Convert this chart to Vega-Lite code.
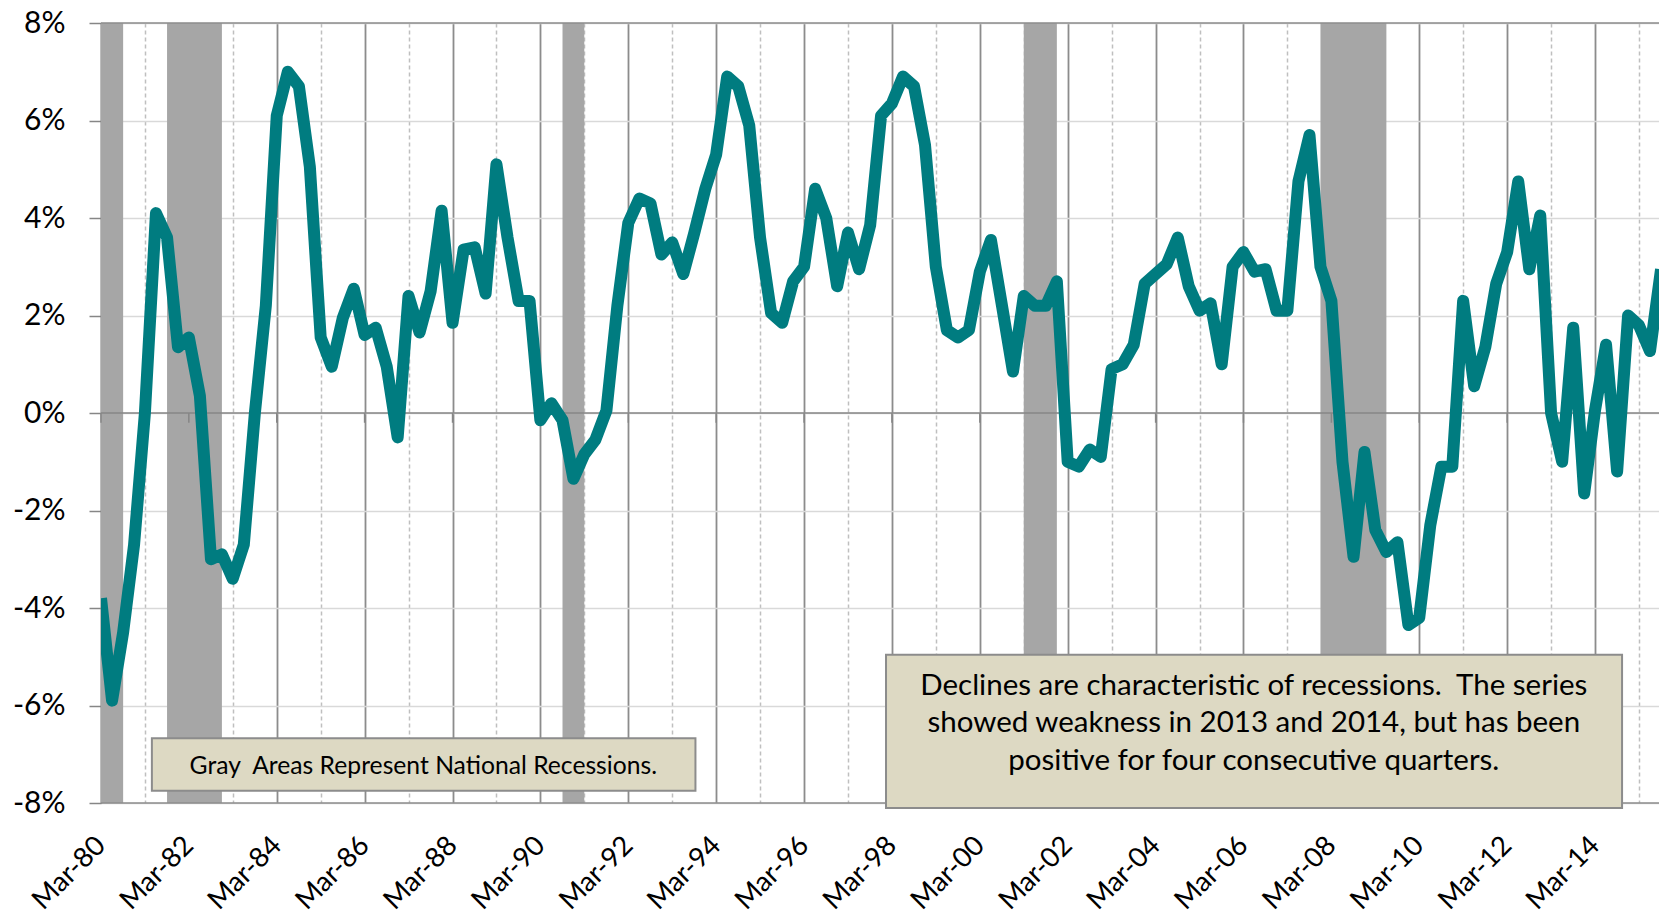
{
  "$schema": "https://vega.github.io/schema/vega-lite/v6.json",
  "width": 1558,
  "height": 780,
  "autosize": {"type": "none"},
  "padding": {"left": 101, "top": 23, "right": 0, "bottom": 113},
  "background": "white",
  "config": {"view": {"stroke": null}, "font": "Lato"},
  "datasets": {
    "series": [
      {"date": "1980-03", "value": -3.8}, {"date": "1980-06", "value": -5.9}, {"date": "1980-09", "value": -4.5}, {"date": "1980-12", "value": -2.7},
      {"date": "1981-03", "value": 0.0}, {"date": "1981-06", "value": 4.1}, {"date": "1981-09", "value": 3.6}, {"date": "1981-12", "value": 1.35},
      {"date": "1982-03", "value": 1.55}, {"date": "1982-06", "value": 0.35}, {"date": "1982-09", "value": -3.0}, {"date": "1982-12", "value": -2.9},
      {"date": "1983-03", "value": -3.4}, {"date": "1983-06", "value": -2.7}, {"date": "1983-09", "value": 0.0}, {"date": "1983-12", "value": 2.2},
      {"date": "1984-03", "value": 6.1}, {"date": "1984-06", "value": 7.0}, {"date": "1984-09", "value": 6.7}, {"date": "1984-12", "value": 5.05},
      {"date": "1985-03", "value": 1.55}, {"date": "1985-06", "value": 0.95}, {"date": "1985-09", "value": 1.95}, {"date": "1985-12", "value": 2.55},
      {"date": "1986-03", "value": 1.6}, {"date": "1986-06", "value": 1.75}, {"date": "1986-09", "value": 0.95}, {"date": "1986-12", "value": -0.5},
      {"date": "1987-03", "value": 2.4}, {"date": "1987-06", "value": 1.65}, {"date": "1987-09", "value": 2.5}, {"date": "1987-12", "value": 4.15},
      {"date": "1988-03", "value": 1.85}, {"date": "1988-06", "value": 3.35}, {"date": "1988-09", "value": 3.4}, {"date": "1988-12", "value": 2.45},
      {"date": "1989-03", "value": 5.1}, {"date": "1989-06", "value": 3.6}, {"date": "1989-09", "value": 2.3}, {"date": "1989-12", "value": 2.3},
      {"date": "1990-03", "value": -0.15}, {"date": "1990-06", "value": 0.2}, {"date": "1990-09", "value": -0.15}, {"date": "1990-12", "value": -1.35},
      {"date": "1991-03", "value": -0.85}, {"date": "1991-06", "value": -0.55}, {"date": "1991-09", "value": 0.05}, {"date": "1991-12", "value": 2.2},
      {"date": "1992-03", "value": 3.9}, {"date": "1992-06", "value": 4.4}, {"date": "1992-09", "value": 4.3}, {"date": "1992-12", "value": 3.25},
      {"date": "1993-03", "value": 3.5}, {"date": "1993-06", "value": 2.85}, {"date": "1993-09", "value": 3.7}, {"date": "1993-12", "value": 4.6},
      {"date": "1994-03", "value": 5.3}, {"date": "1994-06", "value": 6.9}, {"date": "1994-09", "value": 6.7}, {"date": "1994-12", "value": 5.9},
      {"date": "1995-03", "value": 3.6}, {"date": "1995-06", "value": 2.05}, {"date": "1995-09", "value": 1.85}, {"date": "1995-12", "value": 2.7},
      {"date": "1996-03", "value": 3.0}, {"date": "1996-06", "value": 4.6}, {"date": "1996-09", "value": 4.0}, {"date": "1996-12", "value": 2.6},
      {"date": "1997-03", "value": 3.7}, {"date": "1997-06", "value": 2.95}, {"date": "1997-09", "value": 3.85}, {"date": "1997-12", "value": 6.1},
      {"date": "1998-03", "value": 6.35}, {"date": "1998-06", "value": 6.9}, {"date": "1998-09", "value": 6.7}, {"date": "1998-12", "value": 5.5},
      {"date": "1999-03", "value": 3.0}, {"date": "1999-06", "value": 1.7}, {"date": "1999-09", "value": 1.55}, {"date": "1999-12", "value": 1.7},
      {"date": "2000-03", "value": 2.9}, {"date": "2000-06", "value": 3.55}, {"date": "2000-09", "value": 2.2}, {"date": "2000-12", "value": 0.85},
      {"date": "2001-03", "value": 2.4}, {"date": "2001-06", "value": 2.2}, {"date": "2001-09", "value": 2.2}, {"date": "2001-12", "value": 2.7},
      {"date": "2002-03", "value": -1.0}, {"date": "2002-06", "value": -1.1}, {"date": "2002-09", "value": -0.75}, {"date": "2002-12", "value": -0.9},
      {"date": "2003-03", "value": 0.9}, {"date": "2003-06", "value": 1.0}, {"date": "2003-09", "value": 1.4}, {"date": "2003-12", "value": 2.65},
      {"date": "2004-03", "value": 2.85}, {"date": "2004-06", "value": 3.05}, {"date": "2004-09", "value": 3.6}, {"date": "2004-12", "value": 2.6},
      {"date": "2005-03", "value": 2.1}, {"date": "2005-06", "value": 2.25}, {"date": "2005-09", "value": 1.0}, {"date": "2005-12", "value": 3.0},
      {"date": "2006-03", "value": 3.3}, {"date": "2006-06", "value": 2.9}, {"date": "2006-09", "value": 2.95}, {"date": "2006-12", "value": 2.1},
      {"date": "2007-03", "value": 2.1}, {"date": "2007-06", "value": 4.75}, {"date": "2007-09", "value": 5.7}, {"date": "2007-12", "value": 3.0},
      {"date": "2008-03", "value": 2.3}, {"date": "2008-06", "value": -1.0}, {"date": "2008-09", "value": -2.95}, {"date": "2008-12", "value": -0.8},
      {"date": "2009-03", "value": -2.4}, {"date": "2009-06", "value": -2.85}, {"date": "2009-09", "value": -2.65}, {"date": "2009-12", "value": -4.35},
      {"date": "2010-03", "value": -4.2}, {"date": "2010-06", "value": -2.3}, {"date": "2010-09", "value": -1.1}, {"date": "2010-12", "value": -1.1},
      {"date": "2011-03", "value": 2.3}, {"date": "2011-06", "value": 0.55}, {"date": "2011-09", "value": 1.35}, {"date": "2011-12", "value": 2.65},
      {"date": "2012-03", "value": 3.3}, {"date": "2012-06", "value": 4.75}, {"date": "2012-09", "value": 2.95}, {"date": "2012-12", "value": 4.05},
      {"date": "2013-03", "value": 0.0}, {"date": "2013-06", "value": -1.0}, {"date": "2013-09", "value": 1.75}, {"date": "2013-12", "value": -1.65},
      {"date": "2014-03", "value": 0.05}, {"date": "2014-06", "value": 1.4}, {"date": "2014-09", "value": -1.2}, {"date": "2014-12", "value": 2.0},
      {"date": "2015-03", "value": 1.8}, {"date": "2015-06", "value": 1.27}, {"date": "2015-09", "value": 2.95}
    ],
    "recessions": [
      {"start": "1980-03", "end": "1980-09"},
      {"start": "1981-09", "end": "1982-12"},
      {"start": "1990-09", "end": "1991-03"},
      {"start": "2001-03", "end": "2001-12"},
      {"start": "2007-12", "end": "2009-06"}
    ],
    "majorTicks": [
      {"d": "1980-03"}, {"d": "1982-03"}, {"d": "1984-03"}, {"d": "1986-03"}, {"d": "1988-03"}, {"d": "1990-03"},
      {"d": "1992-03"}, {"d": "1994-03"}, {"d": "1996-03"}, {"d": "1998-03"}, {"d": "2000-03"}, {"d": "2002-03"},
      {"d": "2004-03"}, {"d": "2006-03"}, {"d": "2008-03"}, {"d": "2010-03"}, {"d": "2012-03"}, {"d": "2014-03"}
    ],
    "one": [{}]
  },
  "layer": [
    {
      "data": {"name": "series"},
      "mark": {"type": "line", "opacity": 0, "clip": true},
      "encoding": {
        "x": {
          "field": "date", "type": "temporal",
          "scale": {"type": "utc", "nice": false, "domain": [{"year": 1980, "month": 3, "date": 1, "utc": true}, {"year": 2015, "month": 8, "date": 15, "utc": true}]},
          "axis": {
            "title": null, "orient": "bottom",
            "domain": false, "ticks": false, "tickSize": 0,
            "values": [
              {"year": 1980, "month": 3, "date": 1, "utc": true}, {"year": 1981, "month": 3, "date": 1, "utc": true},
              {"year": 1982, "month": 3, "date": 1, "utc": true}, {"year": 1983, "month": 3, "date": 1, "utc": true},
              {"year": 1984, "month": 3, "date": 1, "utc": true}, {"year": 1985, "month": 3, "date": 1, "utc": true},
              {"year": 1986, "month": 3, "date": 1, "utc": true}, {"year": 1987, "month": 3, "date": 1, "utc": true},
              {"year": 1988, "month": 3, "date": 1, "utc": true}, {"year": 1989, "month": 3, "date": 1, "utc": true},
              {"year": 1990, "month": 3, "date": 1, "utc": true}, {"year": 1991, "month": 3, "date": 1, "utc": true},
              {"year": 1992, "month": 3, "date": 1, "utc": true}, {"year": 1993, "month": 3, "date": 1, "utc": true},
              {"year": 1994, "month": 3, "date": 1, "utc": true}, {"year": 1995, "month": 3, "date": 1, "utc": true},
              {"year": 1996, "month": 3, "date": 1, "utc": true}, {"year": 1997, "month": 3, "date": 1, "utc": true},
              {"year": 1998, "month": 3, "date": 1, "utc": true}, {"year": 1999, "month": 3, "date": 1, "utc": true},
              {"year": 2000, "month": 3, "date": 1, "utc": true}, {"year": 2001, "month": 3, "date": 1, "utc": true},
              {"year": 2002, "month": 3, "date": 1, "utc": true}, {"year": 2003, "month": 3, "date": 1, "utc": true},
              {"year": 2004, "month": 3, "date": 1, "utc": true}, {"year": 2005, "month": 3, "date": 1, "utc": true},
              {"year": 2006, "month": 3, "date": 1, "utc": true}, {"year": 2007, "month": 3, "date": 1, "utc": true},
              {"year": 2008, "month": 3, "date": 1, "utc": true}, {"year": 2009, "month": 3, "date": 1, "utc": true},
              {"year": 2010, "month": 3, "date": 1, "utc": true}, {"year": 2011, "month": 3, "date": 1, "utc": true},
              {"year": 2012, "month": 3, "date": 1, "utc": true}, {"year": 2013, "month": 3, "date": 1, "utc": true},
              {"year": 2014, "month": 3, "date": 1, "utc": true}, {"year": 2015, "month": 3, "date": 1, "utc": true}
            ],
            "labelExpr": "utcyear(datum.value) % 2 === 0 ? utcFormat(datum.value, '%b-%y') : ''",
            "labelAngle": -45, "labelAlign": "right", "labelBaseline": "middle",
            "labelPadding": 38, "labelFontSize": 27.5, "labelFont": "Lato", "labelColor": "#000000",
            "labelFlush": false, "labelOverlap": false, "labelBound": false,
            "grid": true,
            "gridColor": {"condition": {"test": "utcyear(datum.value) % 2 === 1", "value": "#BFBFBF"}, "value": "#8C8C8C"},
            "gridDash": {"condition": {"test": "utcyear(datum.value) % 2 === 1", "value": [4, 3]}, "value": []},
            "gridWidth": {"condition": {"test": "utcyear(datum.value) % 2 === 1", "value": 1.5}, "value": 1.8}
          }
        },
        "y": {
          "field": "value", "type": "quantitative",
          "scale": {"domain": [-8, 8], "nice": false, "zero": false},
          "axis": {
            "title": null,
            "values": [-8, -6, -4, -2, 0, 2, 4, 6, 8],
            "labelExpr": "datum.value + '%'",
            "labelFontSize": 30, "labelFont": "Lato", "labelColor": "#000000", "labelPadding": 24,
            "tickSize": 12, "tickColor": "#868686", "tickWidth": 1.5,
            "domainColor": "#868686", "domainWidth": 1.5,
            "grid": true, "gridColor": "#D9D9D9", "gridWidth": 1.5
          }
        }
      }
    },
    {
      "data": {"name": "recessions"},
      "mark": {"type": "rect", "color": "#A6A6A6", "opacity": 1},
      "encoding": {
        "x": {"field": "start", "type": "temporal", "scale": {"type": "utc", "nice": false, "domain": [{"year": 1980, "month": 3, "date": 1, "utc": true}, {"year": 2015, "month": 8, "date": 15, "utc": true}]}},
        "x2": {"field": "end"},
        "y": {"datum": 8, "type": "quantitative", "scale": {"domain": [-8, 8], "nice": false, "zero": false}},
        "y2": {"datum": -8}
      }
    },
    {
      "data": {"name": "one"},
      "mark": {"type": "rule", "color": "#868686", "strokeWidth": 1.5},
      "encoding": {"y": {"datum": 0, "type": "quantitative", "scale": {"domain": [-8, 8], "nice": false, "zero": false}}}
    },
    {
      "data": {"name": "one"},
      "mark": {"type": "rule", "color": "#8C8C8C", "strokeWidth": 1.5},
      "encoding": {"y": {"datum": 8, "type": "quantitative", "scale": {"domain": [-8, 8], "nice": false, "zero": false}}}
    },
    {
      "data": {"name": "one"},
      "mark": {"type": "rule", "color": "#8C8C8C", "strokeWidth": 1.5},
      "encoding": {"y": {"datum": -8, "type": "quantitative", "scale": {"domain": [-8, 8], "nice": false, "zero": false}}}
    },
    {
      "data": {"name": "majorTicks"},
      "mark": {"type": "rule", "color": "#868686", "strokeWidth": 1.5},
      "encoding": {
        "x": {"field": "d", "type": "temporal", "scale": {"type": "utc", "nice": false, "domain": [{"year": 1980, "month": 3, "date": 1, "utc": true}, {"year": 2015, "month": 8, "date": 15, "utc": true}]}},
        "y": {"datum": 0, "type": "quantitative", "scale": {"domain": [-8, 8], "nice": false, "zero": false}},
        "y2": {"datum": -0.2}
      }
    },
    {
      "data": {"name": "series"},
      "mark": {"type": "line", "color": "#007C80", "strokeWidth": 12, "strokeJoin": "round", "strokeCap": "butt", "clip": true},
      "encoding": {
        "x": {"field": "date", "type": "temporal", "scale": {"type": "utc", "nice": false, "domain": [{"year": 1980, "month": 3, "date": 1, "utc": true}, {"year": 2015, "month": 8, "date": 15, "utc": true}]}},
        "y": {"field": "value", "type": "quantitative", "scale": {"domain": [-8, 8], "nice": false, "zero": false}}
      }
    },
    {
      "data": {"name": "one"},
      "mark": {"type": "rect", "fill": "#DDD9C3", "stroke": "#8C8C8C", "strokeWidth": 2},
      "encoding": {
        "x": {"datum": {"year": 1981, "month": 4, "date": 28, "utc": true}, "type": "temporal", "scale": {"type": "utc", "nice": false, "domain": [{"year": 1980, "month": 3, "date": 1, "utc": true}, {"year": 2015, "month": 8, "date": 15, "utc": true}]}},
        "x2": {"datum": {"year": 1993, "month": 9, "date": 10, "utc": true}},
        "y": {"datum": -6.67, "type": "quantitative", "scale": {"domain": [-8, 8], "nice": false, "zero": false}},
        "y2": {"datum": -7.75}
      }
    },
    {
      "data": {"name": "one"},
      "mark": {"type": "text", "font": "Lato", "fontSize": 24.7, "color": "#000000", "align": "center", "baseline": "alphabetic"},
      "encoding": {
        "x": {"datum": {"year": 1987, "month": 7, "date": 2, "utc": true}, "type": "temporal", "scale": {"type": "utc", "nice": false, "domain": [{"year": 1980, "month": 3, "date": 1, "utc": true}, {"year": 2015, "month": 8, "date": 15, "utc": true}]}},
        "y": {"datum": -7.41, "type": "quantitative", "scale": {"domain": [-8, 8], "nice": false, "zero": false}},
        "text": {"value": "Gray\u00a0 Areas Represent National Recessions."}
      }
    },
    {
      "data": {"name": "one"},
      "mark": {"type": "rect", "fill": "#DDD9C3", "stroke": "#8C8C8C", "strokeWidth": 2},
      "encoding": {
        "x": {"datum": {"year": 1998, "month": 1, "date": 11, "utc": true}, "type": "temporal", "scale": {"type": "utc", "nice": false, "domain": [{"year": 1980, "month": 3, "date": 1, "utc": true}, {"year": 2015, "month": 8, "date": 15, "utc": true}]}},
        "x2": {"datum": {"year": 2014, "month": 10, "date": 12, "utc": true}},
        "y": {"datum": -4.96, "type": "quantitative", "scale": {"domain": [-8, 8], "nice": false, "zero": false}},
        "y2": {"datum": -8.1}
      }
    },
    {
      "data": {"name": "one"},
      "mark": {"type": "text", "font": "Lato", "fontSize": 29.5, "color": "#000000", "align": "center", "baseline": "alphabetic", "lineHeight": 37.5},
      "encoding": {
        "x": {"datum": {"year": 2006, "month": 5, "date": 26, "utc": true}, "type": "temporal", "scale": {"type": "utc", "nice": false, "domain": [{"year": 1980, "month": 3, "date": 1, "utc": true}, {"year": 2015, "month": 8, "date": 15, "utc": true}]}},
        "y": {"datum": -5.78, "type": "quantitative", "scale": {"domain": [-8, 8], "nice": false, "zero": false}},
        "text": {"value": ["Declines are characteristic of recessions.\u00a0 The series", "showed weakness in 2013 and 2014, but has been", "positive for four consecutive quarters."]}
      }
    }
  ]
}
